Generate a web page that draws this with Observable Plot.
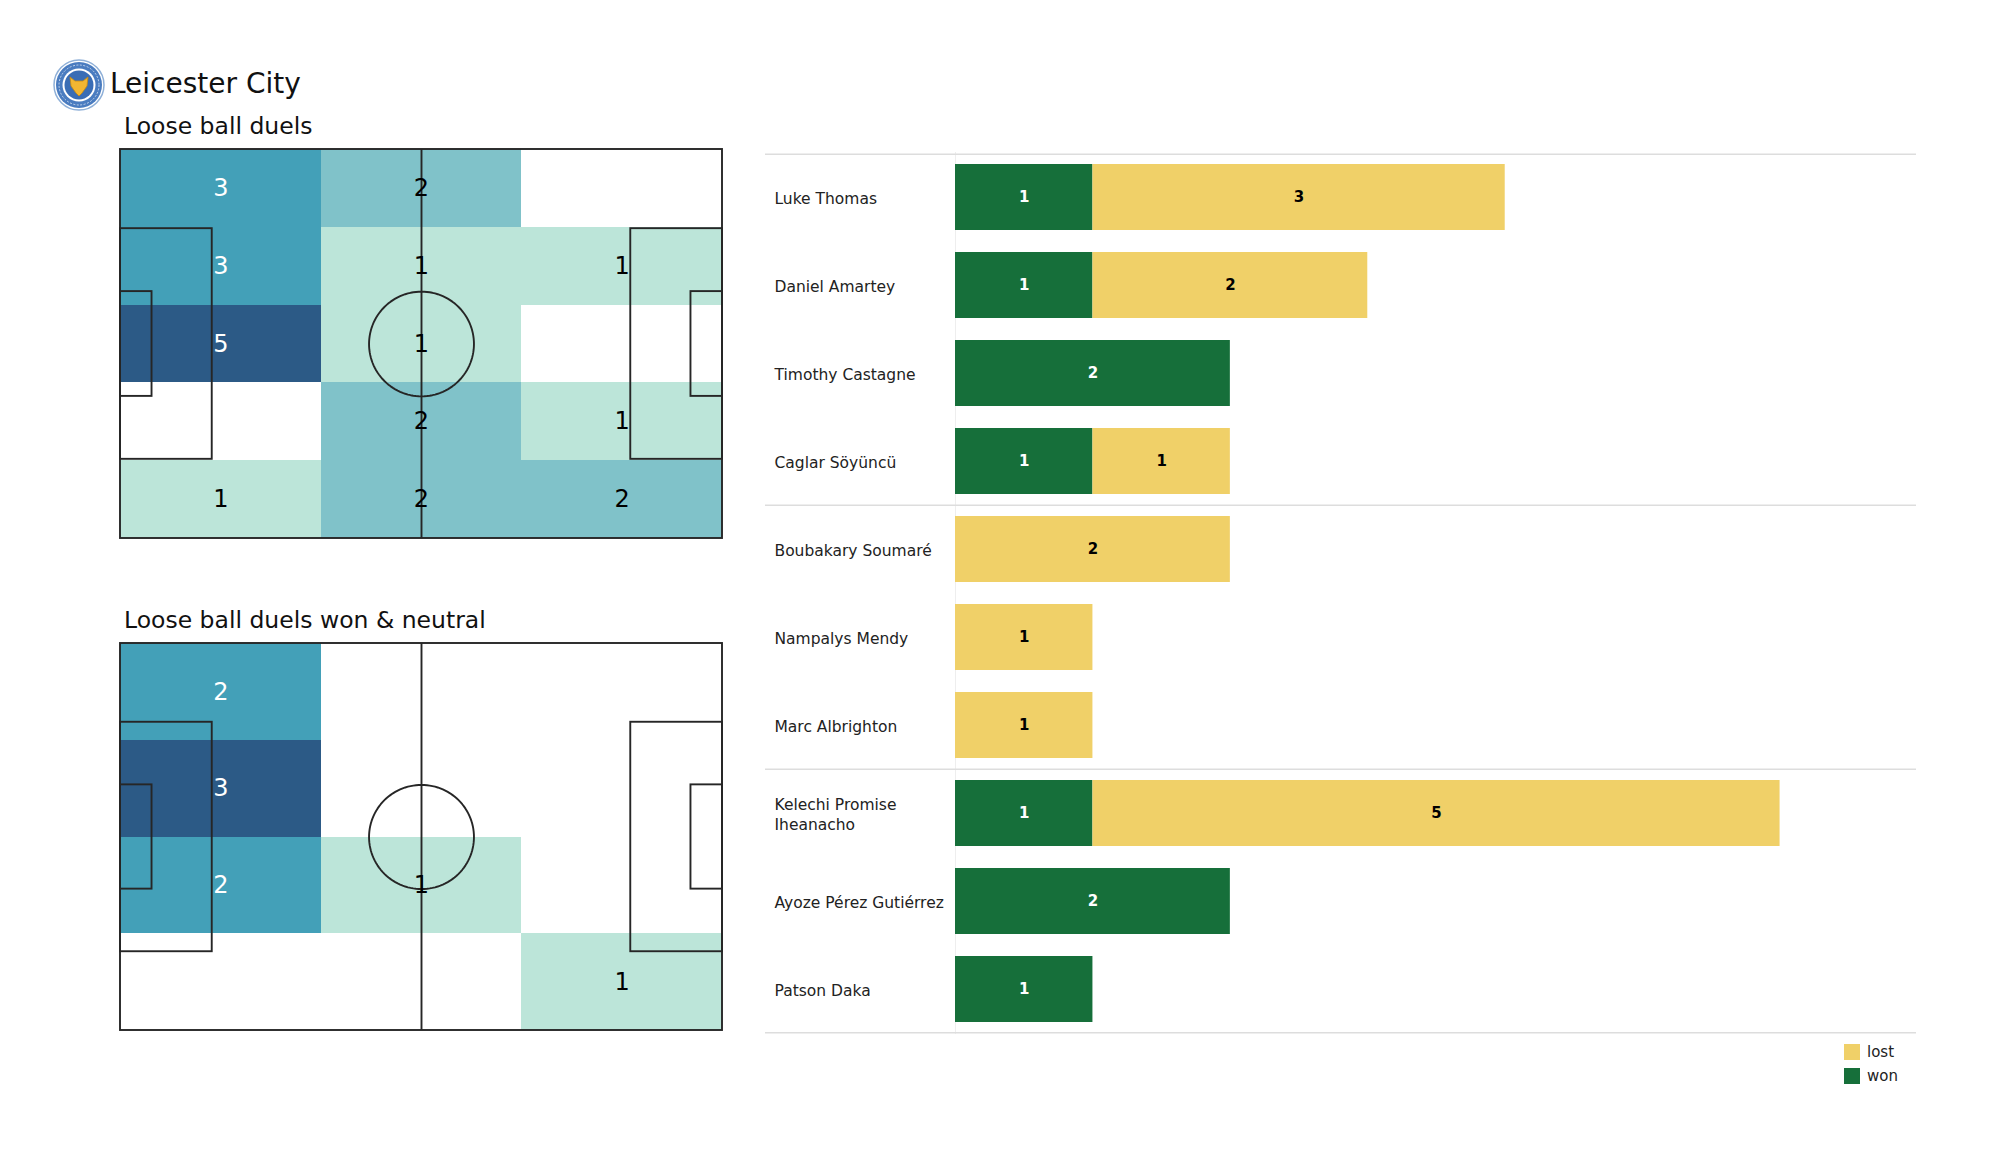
<!DOCTYPE html>
<html><head><meta charset="utf-8">
<script src="https://cdn.jsdelivr.net/npm/d3@7"></script>
<script src="https://cdn.jsdelivr.net/npm/@observablehq/plot@0.6"></script>
<style>
body{margin:0;background:#fff;}
#root{position:relative;width:2000px;height:1175px;overflow:hidden;font-family:"DejaVu Sans",sans-serif;color:#111;background:#fff;}
.abs{position:absolute;white-space:nowrap;line-height:1;}
.legend-row{position:absolute;display:flex;align-items:center;font-size:15px;color:#222;}
.legend-row span.sw{display:inline-block;width:16px;height:16px;margin-right:7px;}
</style></head><body><div id="root"></div>
<script>
// ---------- data ----------
const teamName = "Leicester City";
const pitchTitles = ["Loose ball duels", "Loose ball duels won & neutral"];
const pitchLength = 105, pitchWidth = 68;
// grid counts, rows top->bottom, columns left->right
const duelsAllGrid = [
  [3, 2, 0],
  [3, 1, 1],
  [5, 1, 0],
  [0, 2, 1],
  [1, 2, 2]
];
const duelsWonNeutralGrid = [
  [2, 0, 0],
  [3, 0, 0],
  [2, 1, 0],
  [0, 0, 1]
];
const players = ["Luke Thomas", "Daniel Amartey", "Timothy Castagne", "Caglar Söyüncü",
  "Boubakary Soumaré", "Nampalys Mendy", "Marc Albrighton",
  "Kelechi Promise Iheanacho", "Ayoze Pérez Gutiérrez", "Patson Daka"];
const playerLabels = ["Luke Thomas", "Daniel Amartey", "Timothy Castagne", "Caglar Söyüncü",
  "Boubakary Soumaré", "Nampalys Mendy", "Marc Albrighton",
  "Kelechi Promise\nIheanacho", "Ayoze Pérez Gutiérrez", "Patson Daka"];
const wonValues  = [1, 1, 2, 1, 0, 0, 0, 1, 2, 1];
const lostValues = [3, 2, 0, 1, 2, 1, 1, 5, 0, 0];
const groupStarts = ["Luke Thomas", "Boubakary Soumaré", "Kelechi Promise Iheanacho"];
const outcomes = ["lost", "won"];
const outcomeColors = ["#f0d068", "#166f3a"];
const heatDomainAll = [1, 2, 3, 5];
const heatRangeAll = ["#bce5d9", "#80c2c9", "#43a0b8", "#2c5a86"];
const heatDomainWon = [1, 2, 3];
const heatRangeWon = ["#bce5d9", "#43a0b8", "#2c5a86"];

// ---------- helpers ----------
const root = document.getElementById("root");
function place(el, left, top) {
  el.style.position = "absolute";
  el.style.left = left + "px";
  el.style.top = top + "px";
  root.appendChild(el);
  return el;
}
function textDiv(txt, left, top, size) {
  const d = document.createElement("div");
  d.className = "abs";
  d.textContent = txt;
  d.style.fontSize = size + "px";
  return place(d, left, top);
}

// ---------- logo (decorative crest) ----------
const logo = document.createElement("div");
logo.innerHTML = `<svg width="54" height="54" viewBox="-27 -27 54 54">
  <circle r="25" fill="#ffffff" stroke="#8fb0d8" stroke-width="1.5"/>
  <circle r="23" fill="#4a7cc0"/>
  <circle r="16.5" fill="#ffffff"/>
  <circle r="14.5" fill="#3a6db5"/>
  <path d="M-9,-8 L-4,-4 L4,-4 L9,-8 L8,1 L3,8 L0,11 L-3,8 L-8,1 Z" fill="#f2b632" stroke="#c98a10" stroke-width="0.8"/>
  <circle r="20" fill="none" stroke="#ffffff" stroke-width="0.8" stroke-dasharray="2 1.5" opacity="0.8"/>
</svg>`;
place(logo, 52, 58);

textDiv(teamName, 110, 70, 28);
textDiv(pitchTitles[0], 124, 115, 23.5);
textDiv(pitchTitles[1], 124, 609, 23.5);

// ---------- pitches ----------
function pitch(grid, colorDomain, colorRange, height) {
  const rows = grid.length, cols = grid[0].length;
  const cw = pitchLength / cols, rh = pitchWidth / rows;
  const cells = [];
  grid.forEach((r, i) => r.forEach((v, j) => cells.push({x1: j * cw, x2: (j + 1) * cw, y1: i * rh, y2: (i + 1) * rh, v})));
  const maxV = d3.max(cells, d => d.v);
  const nz = cells.filter(d => d.v > 0);
  const L = pitchLength, W = pitchWidth;
  const pa = 40.32, ga = 18.32, pl = 16, gl = 5.5;
  const boxes = [
    {x1: 0, x2: L, y1: 0, y2: W},
    {x1: 0, x2: pl, y1: (W - pa) / 2, y2: (W + pa) / 2},
    {x1: L - pl, x2: L, y1: (W - pa) / 2, y2: (W + pa) / 2},
    {x1: 0, x2: gl, y1: (W - ga) / 2, y2: (W + ga) / 2},
    {x1: L - gl, x2: L, y1: (W - ga) / 2, y2: (W + ga) / 2}
  ];
  const circle = d3.range(0, 361, 3).map(a => ({
    x: L / 2 + 9.15 * Math.cos(a * Math.PI / 180),
    y: W / 2 + 9.15 * Math.sin(a * Math.PI / 180)
  }));
  const lineStyle = {stroke: "#262626", strokeWidth: 1.9};
  const txt = {x: d => (d.x1 + d.x2) / 2, y: d => (d.y1 + d.y2) / 2, text: "v", fontSize: 24, fontFamily: "DejaVu Sans"};
  return Plot.plot({
    width: 610, height, margin: 4,
    style: {background: "transparent", fontFamily: "DejaVu Sans"},
    x: {domain: [0, L], axis: null},
    y: {domain: [0, W], axis: null, reverse: true},
    color: {type: "linear", domain: colorDomain, range: colorRange, interpolate: "rgb"},
    marks: [
      Plot.rect(nz, {x1: "x1", x2: "x2", y1: "y1", y2: "y2", fill: "v", shapeRendering: "crispEdges"}),
      Plot.rect(boxes, {x1: "x1", x2: "x2", y1: "y1", y2: "y2", fill: "none", ...lineStyle}),
      Plot.ruleX([L / 2], {y1: 0, y2: W, ...lineStyle}),
      Plot.line(circle, {x: "x", y: "y", ...lineStyle}),
      Plot.text(nz.filter(d => d.v / maxV > 0.5), {...txt, fill: "white"}),
      Plot.text(nz.filter(d => d.v / maxV <= 0.5), {...txt, fill: "black"})
    ]
  });
}
place(pitch(duelsAllGrid, heatDomainAll, heatRangeAll, 397), 116, 145);
place(pitch(duelsWonNeutralGrid, heatDomainWon, heatRangeWon, 395), 116, 639);

// ---------- stacked bars ----------
const barData = [];
players.forEach((p, i) => {
  barData.push({player: p, outcome: "won", value: wonValues[i]});
  barData.push({player: p, outcome: "lost", value: lostValues[i]});
});
const barNz = barData.filter(d => d.value > 0);
const yTop = 12, yBottom = 894;
const pIn = 0.25, pOut = 0.115;
const step = (yBottom - yTop) / (players.length - pIn + 2 * pOut);
const bw = step * (1 - pIn);
const stackOpts = {x: "value", y: "player", z: "outcome", order: ["won", "lost"]};
const bars = Plot.plot({
  width: 1170, height: 910,
  marginLeft: 5, marginRight: 14, marginTop: yTop, marginBottom: 910 - yBottom,
  style: {background: "transparent", fontFamily: "DejaVu Sans"},
  x: {domain: [0, 7], range: [195, 1157], axis: null},
  y: {domain: players, range: [yTop, yBottom], paddingInner: pIn, paddingOuter: pOut, axis: null},
  color: {domain: outcomes, range: outcomeColors},
  marks: [
    Plot.ruleX([0], {stroke: "#eeeeee", strokeWidth: 1}),
    Plot.ruleY([players[0]], {y: d => d, dy: -(bw / 2 + pOut * step), stroke: "#dddddd", strokeWidth: 1.5}),
    Plot.ruleY(groupStarts.slice(1), {y: d => d, dy: -step / 2, stroke: "#dddddd", strokeWidth: 1.5}),
    Plot.ruleY([players[players.length - 1]], {y: d => d, dy: bw / 2 + pOut * step, stroke: "#dddddd", strokeWidth: 1.5}),
    Plot.barX(barNz, Plot.stackX({...stackOpts, fill: "outcome"})),
    Plot.text(barNz, Plot.stackX({...stackOpts, text: d => d.outcome === "won" ? String(d.value) : null, fill: "white", fontWeight: "bold", fontSize: 15})),
    Plot.text(barNz, Plot.stackX({...stackOpts, text: d => d.outcome === "lost" ? String(d.value) : null, fill: "black", fontWeight: "bold", fontSize: 15})),
    Plot.text(players, {y: d => d, text: (d, i) => playerLabels[i], frameAnchor: "left", dx: 9, textAnchor: "start", fontSize: 15.5, lineHeight: 1.3, fill: "#222"})
  ]
});
place(bars, 760, 140);

// ---------- legend ----------
outcomes.forEach((o, i) => {
  const row = document.createElement("div");
  row.className = "legend-row";
  row.innerHTML = `<span class="sw" style="background:${outcomeColors[i]}"></span><span>${o}</span>`;
  place(row, 1844, 1043 + i * 24);
});
</script></body></html>
